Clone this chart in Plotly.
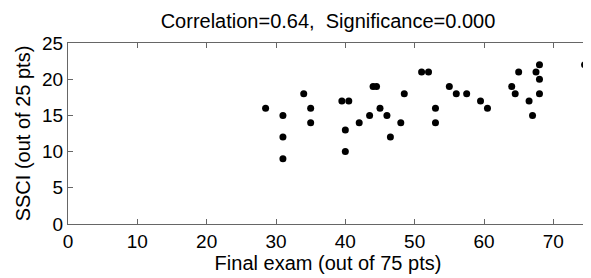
import plotly.graph_objects as go

final_exam = [28.5, 31, 31, 31, 34, 35, 35, 39.5, 40.5, 40, 40, 42, 43.5, 44, 44.5,
              45, 46, 46.5, 48, 48.5, 51, 52, 53, 53, 55, 56, 57.5, 59.5, 60.5,
              64, 64.5, 65, 66.5, 67, 67.5, 68, 68, 68, 74.5]
ssci = [16, 15, 12, 9, 18, 16, 14, 17, 17, 13, 10, 14, 15, 19, 19,
        16, 15, 12, 14, 18, 21, 21, 16, 14, 19, 18, 18, 17, 16,
        19, 18, 21, 17, 15, 21, 22, 20, 18, 22]
x_ticks = [0, 10, 20, 30, 40, 50, 60, 70]
y_ticks = [0, 5, 10, 15, 20, 25]
title_text = "Correlation=0.64,  Significance=0.000"

fig = go.Figure(go.Scatter(
    x=final_exam, y=ssci, mode="markers",
    marker=dict(color="black", size=7),
    cliponaxis=False,
))

font = "Liberation Sans, Arial, sans-serif"
W, H = 581, 270
axis_common = dict(
    showline=True, linecolor="#666666", linewidth=1, mirror="ticks",
    ticks="inside", ticklen=5, tickcolor="#666666", tickwidth=1,
    showgrid=False, zeroline=False, automargin=False,
    tickfont=dict(family=font, size=19, color="black"),
)

fig.update_layout(
    width=W, height=H,
    margin=dict(l=60, r=1, t=35, b=54),
    paper_bgcolor="white", plot_bgcolor="white",
    showlegend=False,
    title=dict(text=title_text, x=320 / W, xanchor="center",
               y=1 - 13 / H, yanchor="middle",
               font=dict(family=font, size=20, color="black")),
    xaxis=dict(range=[0, 75], tickvals=x_ticks,
               title=dict(text="Final exam (out of 75 pts)", standoff=4,
                          font=dict(family=font, size=20, color="black")),
               **axis_common),
    yaxis=dict(range=[0, 25], tickvals=y_ticks,
               title=dict(text="SSCI (out of 25 pts)", standoff=6,
                          font=dict(family=font, size=20, color="black")),
               **axis_common),
)

fig.write_html("out.html")
